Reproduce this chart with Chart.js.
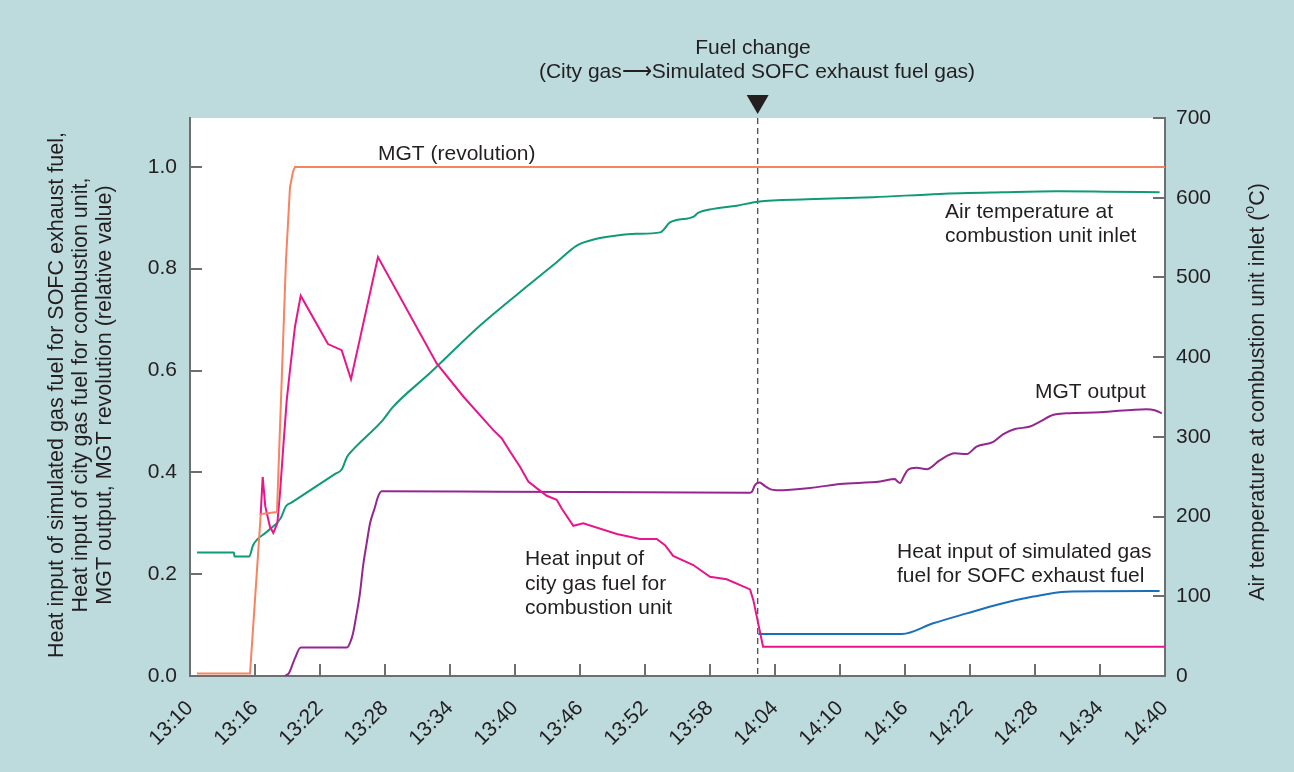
<!DOCTYPE html>
<html>
<head>
<meta charset="utf-8">
<script src="https://cdn.jsdelivr.net/npm/chart.js@4.4.1/dist/chart.umd.min.js"></script>
<style>
  html, body { margin: 0; padding: 0; background: #bddadd; }
  #wrap { width: 1294px; height: 772px; }
</style>
</head>
<body>
<div id="wrap"><canvas id="c" width="1294" height="772"></canvas></div>
<script>
// ---- DATA (x = minutes after 13:10) ----
const xTickMinutes = [0, 6, 12, 18, 24, 30, 36, 42, 48, 54, 60, 66, 72, 78, 84, 90];
const xTickLabels = ["13:10","13:16","13:22","13:28","13:34","13:40","13:46","13:52","13:58","14:04","14:10","14:16","14:22","14:28","14:34","14:40"];
const leftTicks = [0.0, 0.2, 0.4, 0.6, 0.8, 1.0];
const rightTicks = [0, 100, 200, 300, 400, 500, 600, 700];

// MGT revolution (relative)
const revT = [0.65, 5.54, 6.53, 8.03, 8.86, 9.23, 9.5, 9.69, 90];
const revV = [0.005, 0.005, 0.318, 0.322, 0.817, 0.96, 0.99, 1.0, 1.0];

// Air temperature at combustion unit inlet (deg C)
const airT = [0.65, 4.06, 4.1, 5.47, 5.82, 7.1, 8.37, 8.86, 9.4, 11.4, 13.4, 14.0, 14.5, 15.05, 17.8, 18.7, 22.15, 26.8, 31.4, 33.85, 35.7, 37.54, 39.4, 41.2, 43.4, 44.3, 44.9, 46.5, 46.9, 48.3, 50.5, 52.4, 57.0, 63.05, 69.2, 75.0, 80.0, 84.6, 89.5];
const airV = [155, 155, 150, 150, 164, 181, 198, 213, 217.8, 235.7, 253.6, 259, 275, 284, 321, 337, 380, 440, 492, 519, 540, 548.5, 552.6, 554.7, 556.5, 569, 572, 576.4, 581, 586, 590, 595, 598, 600.6, 604.8, 606.8, 608, 607.6, 607];

// Heat input of city gas fuel for combustion unit (relative)
const cityT = [6.52, 6.71, 6.95, 7.38, 7.69, 8.06, 8.31, 8.61, 8.93, 9.23, 9.69, 10.22, 12.74, 14.0, 14.86, 17.35, 22.77, 25.23, 28.0, 28.77, 29.54, 30.46, 31.23, 32.0, 32.93, 33.85, 34.31, 35.38, 36.3, 39.4, 41.54, 43.08, 43.85, 44.6, 46.46, 48.0, 49.54, 51.7, 52.0, 52.9, 90];
const cityV = [0.316, 0.391, 0.333, 0.293, 0.281, 0.30, 0.36, 0.45, 0.542, 0.601, 0.686, 0.747, 0.652, 0.64, 0.583, 0.823, 0.614, 0.549, 0.483, 0.467, 0.441, 0.411, 0.382, 0.369, 0.354, 0.346, 0.329, 0.295, 0.300, 0.279, 0.269, 0.269, 0.257, 0.236, 0.218, 0.195, 0.190, 0.170, 0.149, 0.0576, 0.0576];

// MGT output (relative)
const outT = [8.77, 9.14, 9.69, 10.22, 14.49, 14.77, 15.05, 15.32, 15.69, 15.97, 16.31, 16.62, 17.08, 17.35, 17.7, 28.6, 51.7, 51.88, 52.15, 52.55, 53.08, 53.54, 54.15, 57.5, 60.0, 63.7, 65.08, 65.26, 65.54, 65.91, 66.28, 67.08, 68.0, 69.23, 70.6, 71.7, 72.6, 74.15, 75.08, 76.15, 77.54, 78.46, 79.7, 80.9, 84.0, 88.3, 89.05, 89.7];
const outV = [0.0, 0.006, 0.035, 0.056, 0.056, 0.065, 0.084, 0.115, 0.163, 0.215, 0.261, 0.30, 0.332, 0.352, 0.363, 0.362, 0.360, 0.362, 0.375, 0.380, 0.373, 0.367, 0.365, 0.370, 0.377, 0.382, 0.387, 0.383, 0.379, 0.393, 0.405, 0.409, 0.406, 0.424, 0.4375, 0.436, 0.4505, 0.460, 0.475, 0.485, 0.490, 0.4997, 0.513, 0.516, 0.518, 0.524, 0.522, 0.516];

// Heat input of simulated gas fuel for SOFC exhaust fuel (relative)
const sofcT = [52.46, 65.7, 68.6, 71.7, 74.77, 77.85, 80.9, 84.0, 89.5];
const sofcV = [0.0825, 0.0825, 0.1035, 0.123, 0.1415, 0.156, 0.1657, 0.1664, 0.167];

const fuelChangeT = 52.4;

// ---- helpers ----
const pts = (t, v) => t.map((x, i) => ({ x: x, y: v[i] }));
const FONT = "'Liberation Sans', Arial, sans-serif";
const TXT = '#231f20';
const FS = 21;

const decor = {
  id: 'decor',
  beforeDraw(chart) {
    const ctx = chart.ctx, a = chart.chartArea;
    ctx.save();
    ctx.fillStyle = '#bddadd';
    ctx.fillRect(0, 0, chart.width, chart.height);
    ctx.fillStyle = '#ffffff';
    ctx.fillRect(a.left, a.top, a.right - a.left, a.bottom - a.top);
    ctx.restore();
  },
  beforeDatasetsDraw(chart) {
    const ctx = chart.ctx, a = chart.chartArea;
    const x = chart.scales.x.getPixelForValue(fuelChangeT);
    ctx.save();
    ctx.strokeStyle = '#555';
    ctx.lineWidth = 1.4;
    ctx.setLineDash([6, 4]);
    ctx.beginPath();
    ctx.moveTo(x, a.top);
    ctx.lineTo(x, a.bottom);
    ctx.stroke();
    ctx.restore();
  },
  afterDraw(chart) {
    const ctx = chart.ctx, a = chart.chartArea;
    const sx = chart.scales.x, sy = chart.scales.y, sy2 = chart.scales.y2;
    ctx.save();
    // inward ticks
    ctx.strokeStyle = '#6d6e70';
    ctx.lineWidth = 2;
    ctx.beginPath();
    xTickMinutes.forEach(m => {
      const px = Math.round(sx.getPixelForValue(m));
      if (px <= a.left + 2 || px >= a.right - 2) return;
      ctx.moveTo(px, a.bottom); ctx.lineTo(px, a.bottom - 12);
    });
    leftTicks.forEach(v => {
      const py = Math.round(sy.getPixelForValue(v));
      if (py >= a.bottom - 2) return;
      ctx.moveTo(a.left, py); ctx.lineTo(a.left + 12, py);
    });
    rightTicks.forEach(v => {
      const py = Math.round(sy2.getPixelForValue(v));
      if (py >= a.bottom - 2) return;
      ctx.moveTo(a.right, py); ctx.lineTo(a.right - 12, py);
    });
    ctx.stroke();

    // triangle marker
    const fx = sx.getPixelForValue(fuelChangeT);
    ctx.fillStyle = '#231f20';
    ctx.beginPath();
    ctx.moveTo(fx - 11, 95);
    ctx.lineTo(fx + 11, 95);
    ctx.lineTo(fx, 114);
    ctx.closePath();
    ctx.fill();

    // texts
    ctx.fillStyle = TXT;
    ctx.font = FS + 'px ' + FONT;
    ctx.textBaseline = 'alphabetic';
    ctx.textAlign = 'center';
    ctx.fillText('Fuel change', 753, 54);
    ctx.fillText('(City gas\u27F6Simulated SOFC exhaust fuel gas)', 757, 78);

    ctx.textAlign = 'left';
    ctx.fillText('MGT (revolution)', 378, 160);
    ctx.fillText('Air temperature at', 945, 218);
    ctx.fillText('combustion unit inlet', 945, 242);
    ctx.fillText('MGT output', 1035, 398);
    ctx.fillText('Heat input of simulated gas', 897, 558);
    ctx.fillText('fuel for SOFC exhaust fuel', 897, 582);
    ctx.fillText('Heat input of', 525, 565);
    ctx.fillText('city gas fuel for', 525, 590);
    ctx.fillText('combustion unit', 525, 614);

    // left axis title (3 lines, rotated)
    ctx.save();
    ctx.translate(0, 395);
    ctx.rotate(-Math.PI / 2);
    ctx.textAlign = 'center';
    ctx.textBaseline = 'middle';
    ctx.font = '21.5px ' + FONT;
    ctx.fillText('Heat input of simulated gas fuel for SOFC exhaust fuel,', 0, 57);
    ctx.fillText('Heat input of city gas fuel for combustion unit,', 0, 81);
    ctx.fillText('MGT output, MGT revolution (relative value)', 0, 105);
    ctx.restore();

    // right axis title with superscript o
    ctx.save();
    ctx.translate(1258, 392);
    ctx.rotate(-Math.PI / 2);
    ctx.textBaseline = 'middle';
    const main = 'Air temperature at combustion unit inlet (';
    ctx.font = '21.5px ' + FONT;
    const w1 = ctx.measureText(main).width;
    ctx.font = '14px ' + FONT;
    const w2 = ctx.measureText('o').width;
    ctx.font = '21.5px ' + FONT;
    const w3 = ctx.measureText('C)').width;
    const total = w1 + w2 + w3;
    let cx = -total / 2;
    ctx.textAlign = 'left';
    ctx.fillText(main, cx, 0); cx += w1;
    ctx.font = '14px ' + FONT;
    ctx.fillText('o', cx, -8); cx += w2;
    ctx.font = '21.5px ' + FONT;
    ctx.fillText('C)', cx, 0);
    ctx.restore();

    ctx.restore();
  }
};

const lineDs = (label, data, color, axis, smooth) => ({
  label, data, borderColor: color, backgroundColor: color,
  borderWidth: 2, pointRadius: 0, fill: false, yAxisID: axis,
  cubicInterpolationMode: smooth ? 'monotone' : 'default', tension: smooth ? 0.4 : 0
});

new Chart(document.getElementById('c'), {
  type: 'line',
  data: {
    datasets: [
      lineDs('MGT revolution', pts(revT, revV), '#f5845f', 'y', false),
      lineDs('Heat input of city gas fuel for combustion unit', pts(cityT, cityV), '#e8158b', 'y', false),
      lineDs('Air temperature at combustion unit inlet', pts(airT, airV), '#0f9a78', 'y2', true),
      lineDs('MGT output', pts(outT, outV), '#93278f', 'y', true),
      lineDs('Heat input of simulated gas fuel for SOFC exhaust fuel', pts(sofcT, sofcV), '#1a6fbb', 'y', true)
    ]
  },
  options: {
    responsive: false,
    animation: false,
    devicePixelRatio: 1,
    layout: { padding: { top: 118, left: 0, right: 0, bottom: 0 } },
    plugins: { legend: { display: false }, tooltip: { enabled: false }, title: { display: false } },
    scales: {
      x: {
        type: 'linear', min: 0, max: 90,
        afterBuildTicks: s => { s.ticks = xTickMinutes.map(v => ({ value: v })); },
        afterFit: s => { s.height = 96; },
        grid: { display: true, drawOnChartArea: false, drawTicks: false },
        border: { display: true, color: '#6d6e70', width: 2 },
        ticks: {
          autoSkip: false, maxRotation: 45, minRotation: 45, padding: 20,
          color: TXT, font: { size: FS, family: FONT },
          callback: (v) => { const i = xTickMinutes.indexOf(v); return i >= 0 ? xTickLabels[i] : ''; }
        }
      },
      y: {
        type: 'linear', position: 'left', min: 0, max: 1.096,
        afterBuildTicks: s => { s.ticks = leftTicks.map(v => ({ value: v })); },
        afterFit: s => { s.width = 190; },
        grid: { display: true, drawOnChartArea: false, drawTicks: false },
        border: { display: true, color: '#6d6e70', width: 2 },
        ticks: { padding: 13, color: TXT, font: { size: FS, family: FONT }, callback: v => Number(v).toFixed(1) }
      },
      y2: {
        type: 'linear', position: 'right', min: 0, max: 700,
        afterBuildTicks: s => { s.ticks = rightTicks.map(v => ({ value: v })); },
        afterFit: s => { s.width = 129; },
        grid: { display: true, drawOnChartArea: false, drawTicks: false },
        border: { display: true, color: '#6d6e70', width: 2 },
        ticks: { padding: 11, color: TXT, font: { size: FS, family: FONT }, callback: v => String(v) }
      }
    }
  },
  plugins: [decor]
});
</script>
</body>
</html>
